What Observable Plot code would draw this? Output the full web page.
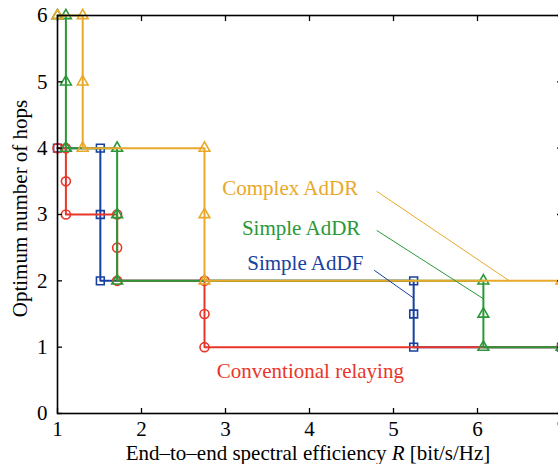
<!DOCTYPE html>
<html><head><meta charset="utf-8">
<script src="https://cdn.jsdelivr.net/npm/d3@7"></script>
<script src="https://cdn.jsdelivr.net/npm/@observablehq/plot@0.6"></script>
<style>
body{margin:0;background:#fff;overflow:hidden}
svg, svg text{font-family:"Liberation Serif","Times New Roman",serif !important}
</style>
</head><body><div id="chart"></div>
<script>
const xTicks = [1, 2, 3, 4, 5, 6, 7];
const yTicks = [0, 1, 2, 3, 4, 5, 6];

const seriesNames = ["Simple AdDF", "Conventional relaying", "Simple AdDR", "Complex AdDR"];
const seriesColors = ["#1840a0", "#e8362a", "#2a9838", "#e9a82a"];
const seriesSymbols = ["square", "circle", "triangle", "triangle"];

// Simple AdDF
const addfR    = [1, 1.51, 1.51, 1.51, 5.24, 5.24, 5.24, 7];
const addfHops = [4, 4,    3,    2,    2,    1.5,  1,    1];
// Conventional relaying
const convR    = [1, 1.1, 1.1, 1.1, 1.71, 1.71, 1.71, 2.75, 2.75, 2.75, 7];
const convHops = [4, 4,   3.5, 3,   3,    2.5,  2,    2,    1.5,  1,    1];
// Simple AdDR
const saddrR    = [1, 1.1, 1.1, 1.1, 1.71, 1.71, 1.71, 6.07, 6.07, 6.07, 7];
const saddrHops = [6, 6,   5,   4,   4,    3,    2,    2,    1.5,  1,    1];
// Complex AdDR
const caddrR    = [1, 1.3, 1.3, 1.3, 2.75, 2.75, 2.75, 7];
const caddrHops = [6, 6,   5,   4,   4,    3,    2,    2];

const seriesR = [addfR, convR, saddrR, caddrR];
const seriesHops = [addfHops, convHops, saddrHops, caddrHops];

// annotation labels (data coordinates)
const labelText = ["Complex AdDR", "Simple AdDR", "Simple AdDF", "Conventional relaying"];
const labelX = [3.77, 3.90, 3.95, 4.01];
const labelY = [3.39, 2.80, 2.26, 0.64];
const labelColor = ["#e9a82a", "#2a9838", "#1840a0", "#e8362a"];
// leader lines
const leadX1 = [4.80, 4.80, 4.77];
const leadY1 = [3.35, 2.76, 2.16];
const leadX2 = [6.38, 6.07, 5.24];
const leadY2 = [2.00, 1.73, 1.74];
const leadColor = ["#e9a82a", "#2a9838", "#1840a0"];

const xLabel = "End–to–end spectral efficiency R [bit/s/Hz]";
const yLabel = "Optimum number of hops";
const FONT = '"Liberation Serif","Times New Roman",serif';

const marks = [];
seriesNames.forEach((name, s) => {
  const rows = seriesR[s].map((r, i) => ({R: r, hops: seriesHops[s][i]}));
  const sym = seriesSymbols[s];
  marks.push(Plot.line(rows, {x: "R", y: "hops", stroke: seriesColors[s], strokeWidth: 2, curve: "linear"}));
  marks.push(Plot.dot(rows, {x: "R", y: "hops", symbol: sym, r: sym === "triangle" ? 4.0 : (sym === "square" ? 4.4 : 4.5), stroke: seriesColors[s], strokeWidth: 1.6, fill: "none"}));
});

const leads = leadX1.map((d, i) => ({x1: leadX1[i], y1: leadY1[i], x2: leadX2[i], y2: leadY2[i], c: leadColor[i]}));
const labels = labelText.map((t, i) => ({t, x: labelX[i], y: labelY[i], c: labelColor[i]}));

const chart = Plot.plot({
  width: 558,
  height: 464,
  marginLeft: 57,
  marginRight: -3,
  marginTop: 15,
  marginBottom: 51,
  style: {fontFamily: FONT, background: "white"},
  x: {domain: [1, 7]},
  y: {domain: [0, 6]},
  marks: [
    ...marks,
    Plot.link(leads, {x1: "x1", y1: "y1", x2: "x2", y2: "y2", stroke: "c", strokeWidth: 1}),
    Plot.text(labels, {x: "x", y: "y", text: "t", fill: "c", fontSize: 21, fontFamily: FONT, textAnchor: "middle"}),
    Plot.frame({stroke: "black", strokeWidth: 1.6}),
    Plot.axisX({anchor: "bottom", ticks: xTicks, tickSize: -5, tickFormat: () => "", label: null, strokeWidth: 1.3}),
    Plot.axisX({anchor: "top", ticks: xTicks, tickSize: -5, tickFormat: () => "", label: null, strokeWidth: 1.3}),
    Plot.axisY({anchor: "left", ticks: yTicks, tickSize: -5, tickFormat: () => "", label: null, strokeWidth: 1.3}),
    Plot.axisY({anchor: "right", ticks: yTicks, tickSize: -5, tickFormat: () => "", label: null, strokeWidth: 1.3}),
    Plot.axisX({anchor: "bottom", ticks: xTicks, tickSize: 0, tickPadding: 8, tickFormat: d => String(d), fontSize: 21, fontFamily: FONT, label: null, fill: "black"}),
    Plot.axisY({anchor: "left", ticks: yTicks, tickSize: 0, tickPadding: 10, tickFormat: d => String(d), fontSize: 21, fontFamily: FONT, label: null, fill: "black"}),
    Plot.text([xLabel], {frameAnchor: "bottom", dy: 40, dx: -1.5, fontSize: 21, fontFamily: FONT, fill: "black", textAnchor: "middle", lineAnchor: "middle"}),
    Plot.text([yLabel], {frameAnchor: "left", rotate: -90, dx: -37, dy: -6, fontSize: 21, fontFamily: FONT, fill: "black", textAnchor: "middle", lineAnchor: "middle"})
  ]
});

d3.select(chart).selectAll("text").filter(function() { return this.textContent === xLabel; })
  .each(function() {
    const t = d3.select(this);
    t.text(null);
    t.append("tspan").text("End–to–end spectral efficiency ");
    t.append("tspan").attr("font-style", "italic").text("R");
    t.append("tspan").text(" [bit/s/Hz]");
  });

document.getElementById("chart").appendChild(chart);
</script>
</body></html>
